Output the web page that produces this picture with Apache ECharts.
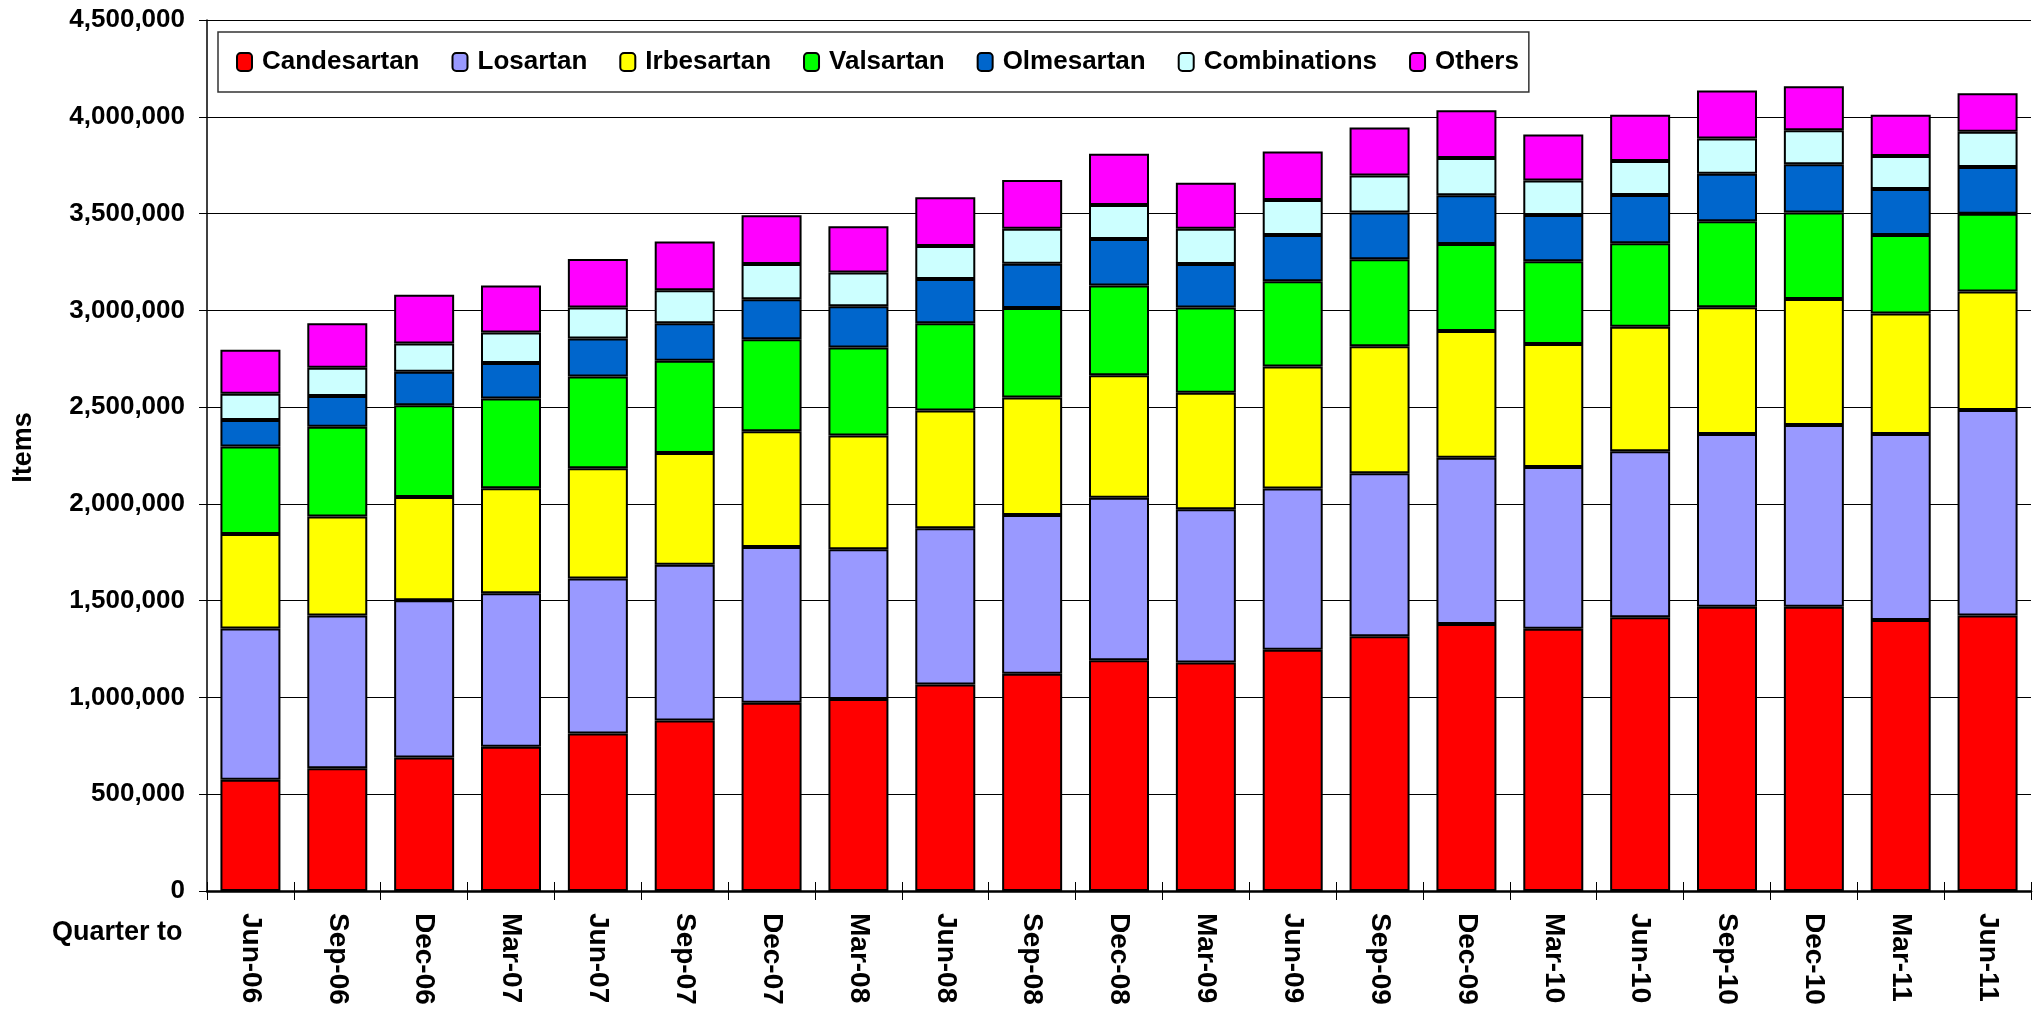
<!DOCTYPE html>
<html>
<head>
<meta charset="utf-8">
<title>Angiotensin II antagonists - items per quarter</title>
<script src="https://cdn.jsdelivr.net/npm/echarts@6/dist/echarts.min.js"></script>
<style>
  html, body { margin: 0; padding: 0; background: #fff; }
  #chart { width: 2033px; height: 1009px; }
</style>
</head>
<body>
<div id="chart"></div>
<script>
// quarter labels
var quarters = ['Jun-06', 'Sep-06', 'Dec-06', 'Mar-07', 'Jun-07', 'Sep-07', 'Dec-07', 'Mar-08',
  'Jun-08', 'Sep-08', 'Dec-08', 'Mar-09', 'Jun-09', 'Sep-09', 'Dec-09', 'Mar-10',
  'Jun-10', 'Sep-10', 'Dec-10', 'Mar-11', 'Jun-11']

// items per quarter
var candesartan = [575000, 634000, 690000, 745000, 814000, 881000, 972000, 992000, 1067000, 1123000, 1192000,
  1181000, 1247000, 1316000, 1379000, 1355000, 1414000, 1469000, 1469000, 1400000, 1424000]
var losartan = [781000, 789000, 812000, 793000, 801000, 805000, 805000, 773000, 807000, 820000, 840000,
  791000, 832000, 842000, 860000, 836000, 858000, 892000, 939000, 961000, 1061000]
var irbesartan = [488000, 512000, 534000, 543000, 569000, 577000, 598000, 588000, 609000, 607000, 633000,
  602000, 631000, 657000, 654000, 635000, 643000, 655000, 651000, 623000, 612000]
var valsartan = [452000, 464000, 474000, 464000, 474000, 476000, 476000, 455000, 450000, 462000, 463000,
  440000, 440000, 449000, 450000, 428000, 432000, 444000, 446000, 405000, 402000]
var olmesartan = [137000, 158000, 173000, 183000, 197000, 194000, 206000, 213000, 229000, 229000, 241000,
  225000, 239000, 241000, 251000, 239000, 249000, 246000, 250000, 238000, 241000]
var combinations = [136000, 147000, 146000, 158000, 159000, 171000, 182000, 175000, 171000, 181000, 175000,
  183000, 181000, 191000, 193000, 178000, 175000, 182000, 176000, 170000, 183000]
var others = [227000, 229000, 252000, 242000, 251000, 252000, 252000, 238000, 251000, 251000, 265000,
  237000, 251000, 249000, 247000, 238000, 239000, 248000, 227000, 213000, 199000]

var yTicks = [0, 500000, 1000000, 1500000, 2000000, 2500000, 3000000, 3500000, 4000000, 4500000]

var font = '"Liberation Sans", Arial, sans-serif'

function makeSeries(name, data, color) {
  return {
    name: name,
    type: 'bar',
    stack: 'Total',
    barWidth: 60,
    itemStyle: {
      color: color,
      borderColor: '#000',
      borderWidth: 2
    },
    emphasis: { disabled: true },
    data: data
  }
}

var chart = echarts.init(document.getElementById('chart'))
chart.setOption({
  animation: false,
  textStyle: { fontFamily: font },
  legend: {
    left: 218,
    top: 32,
    padding: [17, 10, 17, 18],
    itemGap: 32,
    itemWidth: 15,
    itemHeight: 18,
    borderColor: '#333',
    borderWidth: 1.5,
    textStyle: {
      fontFamily: font,
      fontWeight: 'bold',
      fontSize: 26,
      color: '#000',
      padding: [0, 0, 0, 5]
    }
  },
  grid: {
    left: 207,
    right: 2,
    top: 20,
    bottom: 118,
    containLabel: false
  },
  graphic: [
    {
      type: 'text',
      left: 52,
      top: 919,
      style: {
        text: 'Quarter to',
        fontFamily: font,
        fontWeight: 'bold',
        fontSize: 27,
        fill: '#000'
      }
    }
  ],
  xAxis: [
    {
      type: 'category',
      data: quarters,
      axisLine: { lineStyle: { color: '#000', width: 2.5 } },
      axisTick: { show: true, length: 9, lineStyle: { color: '#000', width: 1 } },
      axisLabel: {
        rotate: -90,
        margin: 22,
        fontFamily: font,
        fontWeight: 'bold',
        fontSize: 28,
        color: '#000'
      },
      splitLine: { show: false }
    },
    {
      // inner half of the crossing tick marks
      type: 'category',
      data: quarters,
      position: 'bottom',
      axisLine: { show: false },
      axisTick: { show: true, inside: true, length: 9, lineStyle: { color: '#000', width: 1 } },
      axisLabel: { show: false },
      splitLine: { show: false }
    }
  ],
  yAxis: {
    type: 'value',
    min: yTicks[0],
    max: yTicks[yTicks.length - 1],
    interval: 500000,
    name: 'Items',
    nameLocation: 'middle',
    nameRotate: 90,
    nameGap: 170,
    nameTextStyle: {
      fontFamily: font,
      fontWeight: 'bold',
      fontSize: 27,
      color: '#000',
      padding: [0, 0, 0, 16]
    },
    axisLine: { show: true, lineStyle: { color: '#000', width: 1.5 } },
    axisTick: { show: true, length: 8, lineStyle: { color: '#000' } },
    axisLabel: {
      margin: 22,
      fontFamily: font,
      fontWeight: 'bold',
      fontSize: 26,
      color: '#000',
      formatter: function (v) { return echarts.format.addCommas(v) }
    },
    splitLine: { show: true, lineStyle: { color: '#000', width: 1 } }
  },
  series: [
    makeSeries('Candesartan', candesartan, '#FF0000'),
    makeSeries('Losartan', losartan, '#9999FF'),
    makeSeries('Irbesartan', irbesartan, '#FFFF00'),
    makeSeries('Valsartan', valsartan, '#00FF00'),
    makeSeries('Olmesartan', olmesartan, '#0066CC'),
    makeSeries('Combinations', combinations, '#CCFFFF'),
    makeSeries('Others', others, '#FF00FF')
  ]
})

window.addEventListener('resize', function () {
  chart.resize()
})
</script>
</body>
</html>
